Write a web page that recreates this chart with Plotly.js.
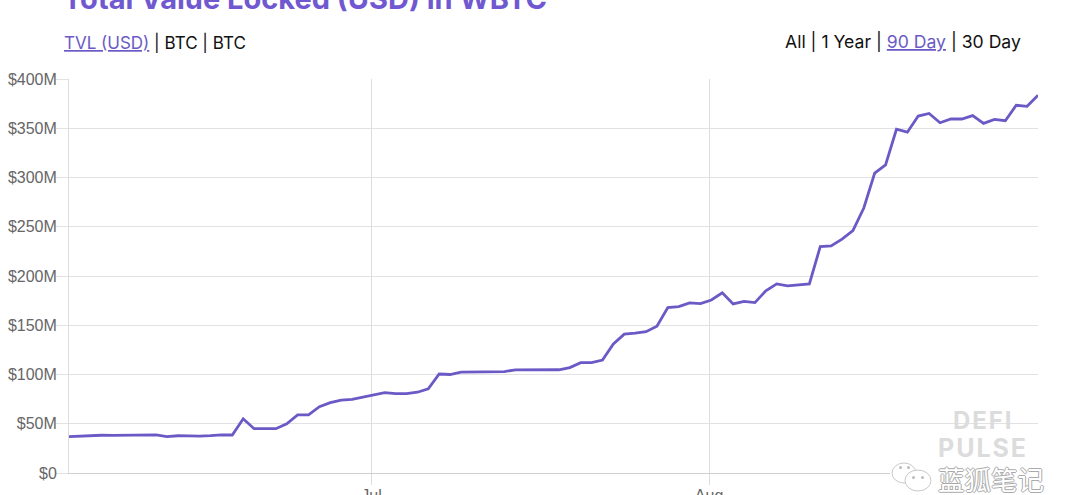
<!DOCTYPE html>
<html>
<head>
<meta charset="utf-8">
<script src="https://cdn.plot.ly/plotly-3.0.1.min.js"></script>
<style>html,body{margin:0;padding:0;background:#fff;overflow:hidden}#c{width:1080px;height:495px}</style>
</head>
<body>
<div id="c"></div>
<script>
const dates = ["06-03","06-04","06-05","06-06","06-07","06-08","06-09","06-10","06-11","06-12",
"06-13","06-14","06-15","06-16","06-17","06-18","06-19","06-20","06-21","06-22",
"06-23","06-24","06-25","06-26","06-27","06-28","06-29","06-30","07-01","07-02",
"07-03","07-04","07-05","07-06","07-07","07-08","07-09","07-10","07-11","07-12",
"07-13","07-14","07-15","07-16","07-17","07-18","07-19","07-20","07-21","07-22",
"07-23","07-24","07-25","07-26","07-27","07-28","07-29","07-30","07-31","08-01",
"08-02","08-03","08-04","08-05","08-06","08-07","08-08","08-09","08-10","08-11",
"08-12","08-13","08-14","08-15","08-16","08-17","08-18","08-19","08-20","08-21",
"08-22","08-23","08-24","08-25","08-26","08-27","08-28","08-29","08-30","08-31"];
const tvlMillions = [37,37.5,38,38.3,38.2,38.2,38.3,38.6,38.8,37,
37.8,37.7,37.4,37.9,38.7,38.6,55,45,45,45,
50,59,59,67.3,71.4,74,74.8,77,79.5,81.5,
80.5,80.5,82,85.5,100.5,100,102.5,102.7,103.2,103,
103,104.7,104.7,104.7,105.2,104.8,107,112,112,114.7,
131,141,142,143.5,149,168,169,172.7,172,175.6,
183,171.6,174.3,173,185,192,190,191,192,229.8,
230.5,237.5,246,269,304.5,312.7,349,346,362.4,365,
355.6,359.4,359.4,362.8,355,359,357.6,373.3,372.3,383.4];
const yTickVals = [0,50,100,150,200,250,300,350,400];
const yTickText = ["$0","$50M","$100M","$150M","$200M","$250M","$300M","$350M","$400M"];
const xTickVals = ["2020-07-01","2020-08-01"];
const xTickText = ["Jul","Aug"];

const PURPLE = "#6b5ac6";
const GRID = "#e2e2e2";
const W = 1080, H = 495;
const m = {l:69, r:42, t:79, b:22};
const pxx = v => (v - m.l) / (W - m.l - m.r);
const pyy = v => 1 - (v - m.t) / (H - m.t - m.b);

const note = (text, x, y, size, color, anchor, extra) => Object.assign({
  text, xref:"paper", yref:"paper", x:pxx(x), y:pyy(y), xanchor:anchor, yanchor:"middle",
  showarrow:false, font:{family:"Inter, Liberation Sans, sans-serif", size, color}
}, extra || {});

const layout = {
  width:W, height:H, margin:m, paper_bgcolor:"#fff", plot_bgcolor:"#fff", showlegend:false,
  xaxis:{type:"date", range:["2020-06-03 05:00","2020-08-31 05:00"], tickmode:"array",
    tickvals:xTickVals, ticktext:xTickText, showgrid:true, gridcolor:"#dddddd", gridwidth:1,
    ticks:"outside", ticklen:11, tickcolor:"#dddddd", zeroline:false, showline:true, linecolor:"#cfcfcf", linewidth:1,
    ticklabelstandoff:-3,
    tickfont:{family:"Liberation Sans, sans-serif", size:16, color:"#666"}},
  yaxis:{range:[0,400], tickmode:"array", tickvals:yTickVals, ticktext:yTickText, showgrid:true,
    gridcolor:GRID, gridwidth:1, ticks:"outside", ticklen:12, tickcolor:GRID, zeroline:false,
    showline:true, linecolor:"#dddddd", linewidth:1, ticklabelstandoff:-4,
    tickfont:{family:"Liberation Sans, sans-serif", size:16, color:"#666"}},
  shapes:[
    {type:"rect", layer:"above", xref:"paper", yref:"paper", x0:pxx(890), x1:pxx(1080), y0:pyy(495), y1:pyy(463), fillcolor:"#fff", line:{width:0}},
    {type:"circle", layer:"above", xref:"paper", yref:"paper", x0:pxx(892), x1:pxx(916), y0:pyy(483), y1:pyy(463), fillcolor:"#fff", line:{color:"#c9c9c9", width:1}},
    {type:"circle", layer:"above", xref:"paper", yref:"paper", x0:pxx(905), x1:pxx(931), y0:pyy(491), y1:pyy(470), fillcolor:"#fff", line:{color:"#c9c9c9", width:1}},
    {type:"circle", layer:"above", xref:"paper", yref:"paper", x0:pxx(899), x1:pxx(902), y0:pyy(469), y1:pyy(466), fillcolor:"#bbb", line:{width:0}},
    {type:"circle", layer:"above", xref:"paper", yref:"paper", x0:pxx(907), x1:pxx(910), y0:pyy(469), y1:pyy(466), fillcolor:"#bbb", line:{width:0}},
    {type:"circle", layer:"above", xref:"paper", yref:"paper", x0:pxx(912), x1:pxx(915), y0:pyy(479), y1:pyy(476), fillcolor:"#bbb", line:{width:0}},
    {type:"circle", layer:"above", xref:"paper", yref:"paper", x0:pxx(921), x1:pxx(924), y0:pyy(479), y1:pyy(476), fillcolor:"#bbb", line:{width:0}}
  ],
  annotations:[
    note("<b>Total Value Locked (USD) in WBTC</b>", 61, -2, 29, "#7059d0", "left"),
    note("<span style='color:#6b5ac6'><u>TVL (USD)</u></span> | BTC | BTC", 62, 42.5, 17, "#111", "left"),
    note("All | 1 Year | <span style='color:#6b5ac6'><u>90 Day</u></span> | 30 Day", 1023, 42.5, 17.6, "#111", "right"),
    note("<b>D\u200AE\u200AF\u200AI</b>", 982, 420, 24, "#dcdcdc", "center"),
    note("<b>P\u200AU\u200AL\u200AS\u200AE</b>", 982, 448, 25, "#dcdcdc", "center"),
    note("蓝狐笔记", 991, 478, 26.5, "#ffffff", "center", {font:{family:"Noto Sans CJK SC", size:26.5, color:"#ffffff",
      shadow:"1px 0 0 #aaa,-1px 0 0 #aaa,0 1px 0 #aaa,0 -1px 0 #aaa"}})
  ]
};

Plotly.newPlot("c", [{
  type:"scatter", mode:"lines", x:dates.map(d => "2020-" + d + " 05:00"), y:tvlMillions,
  line:{color:PURPLE, width:2.8, shape:"linear"}, cliponaxis:false, hoverinfo:"x+y"
}], layout, {displayModeBar:false, staticPlot:true});
</script>
</body>
</html>
